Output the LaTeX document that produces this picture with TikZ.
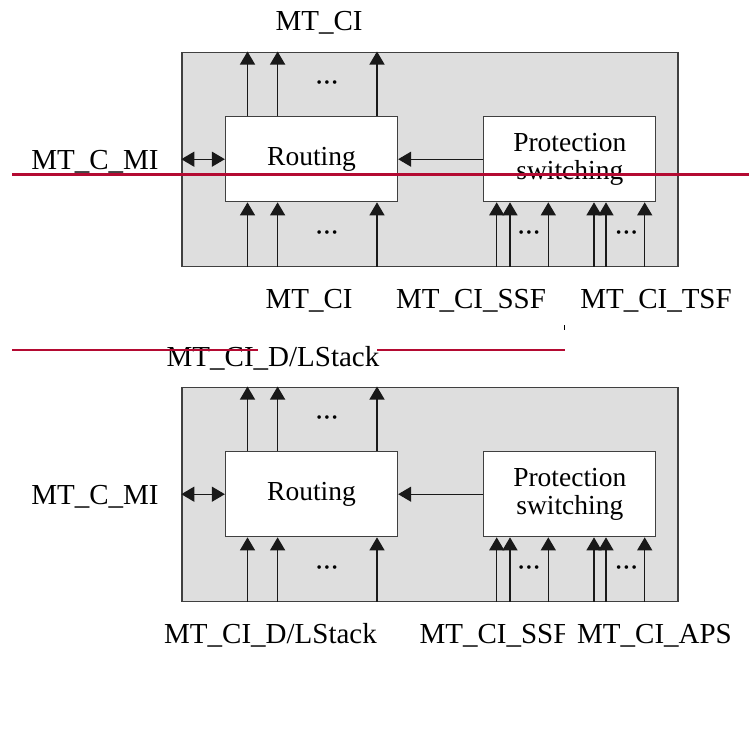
\documentclass[tikz,border=0pt]{standalone}
\usepackage{fontspec}
\setmainfont{Liberation Serif}
\usetikzlibrary{arrows.meta}
\definecolor{revred}{RGB}{180,10,50}

\tikzset{
    frame/.style={draw=black!75, line width=1.4pt, fill=black!13, minimum width=496pt, minimum height=214pt, inner sep=0pt},
    blk/.style={draw=black!75, line width=1.3pt, fill=white, minimum width=172pt, minimum height=85pt, inner sep=0pt, align=center, font=\fontsize{27.5}{28}\selectfont},
    sig/.style={-{Triangle[length=13pt,width=15pt]}, line width=1.3pt, black!90},
    both/.style={{Triangle[length=13pt,width=15pt]}-{Triangle[length=13pt,width=15pt]}, line width=1.3pt, black!90},
    lbl/.style={font=\fontsize{29}{30}\selectfont, inner sep=0pt, anchor=base},
    dots/.style={font=\fontsize{15}{15}\selectfont, inner sep=0pt},
    revline/.style={draw=revred, line width=3pt}
}

\begin{document}
\begin{tikzpicture}[x=1pt, y=-1pt]
    \useasboundingbox (0,0) rectangle (749,728);

    % Draw the two units, the second one shifted down
    \foreach \k/\dy in {1/0,2/335}{
        \begin{scope}[yshift=-\dy pt]
            \node[frame] (outer\k) at (430,159.2) {};
            \node[blk] (rout\k) at (311.5,159.2) {Routing};
            \node[blk] (prot\k) at (569.8,159.2) {Protection\\switching};

            % Connections inside the unit
            \draw[sig] (prot\k.west) -- (rout\k.east);
            \draw[both] (outer\k.west) -- (rout\k.west);
            \foreach \x in {247.5,277.6,377}{
                \draw[sig] (\x,0 |- rout\k.north) -- (\x,0 |- outer\k.north);
                \draw[sig] (\x,0 |- outer\k.south) -- (\x,0 |- rout\k.south);
            }
            \foreach \x in {496.7,510,548.3,594,606,644.7}{
                \draw[sig] (\x,0 |- outer\k.south) -- (\x,0 |- prot\k.south);
            }

            % The dots between the arrows
            \node[dots] (dtop\k) at (327,84) {\textbullet\hspace{2.5pt}\textbullet\hspace{2.5pt}\textbullet};
            \node[dots] (dbot\k) at (327,234) {\textbullet\hspace{2.5pt}\textbullet\hspace{2.5pt}\textbullet};
            \node[dots] (dssf\k) at (529,234) {\textbullet\hspace{2.5pt}\textbullet\hspace{2.5pt}\textbullet};
            \node[dots] (daps\k) at (626.5,234) {\textbullet\hspace{2.5pt}\textbullet\hspace{2.5pt}\textbullet};

            \node[lbl] (mi\k) at (95,169.3) {MT\_C\_MI};
        \end{scope}
    }

    % Labels of the first unit
    \node[lbl] (ciout1) at (319,30) {MT\_CI};
    \node[lbl] (ciin1) at (309,308) {MT\_CI};
    \node[lbl] (ssf1) at (471,308) {MT\_CI\_SSF};
    \node[lbl] (tsf1) at (656,308) {MT\_CI\_TSF};

    % Labels of the second unit
    \node[lbl] (ciout2) at (273,366) {MT\_CI\_D/LStack};
    \node[lbl] (ciin2) at (270.5,643) {MT\_CI\_D/LStack};
    \node[lbl] (ssf2) at (494.5,643) {MT\_CI\_SSF};
    \node[lbl, fill=white, inner xsep=12pt, inner ysep=2pt] (aps2) at (654.5,643) {MT\_CI\_APS};

    % Revision marks
    \draw[revline] (12,174.5) -- (749,174.5);
    \draw[revline, line width=2pt] (12,350) -- (258,350);
    \draw[revline, line width=2pt] (377,350) -- (565,350);
    \draw[line width=0.8pt] (564.3,325) -- (564.3,330);
\end{tikzpicture}
\end{document}
